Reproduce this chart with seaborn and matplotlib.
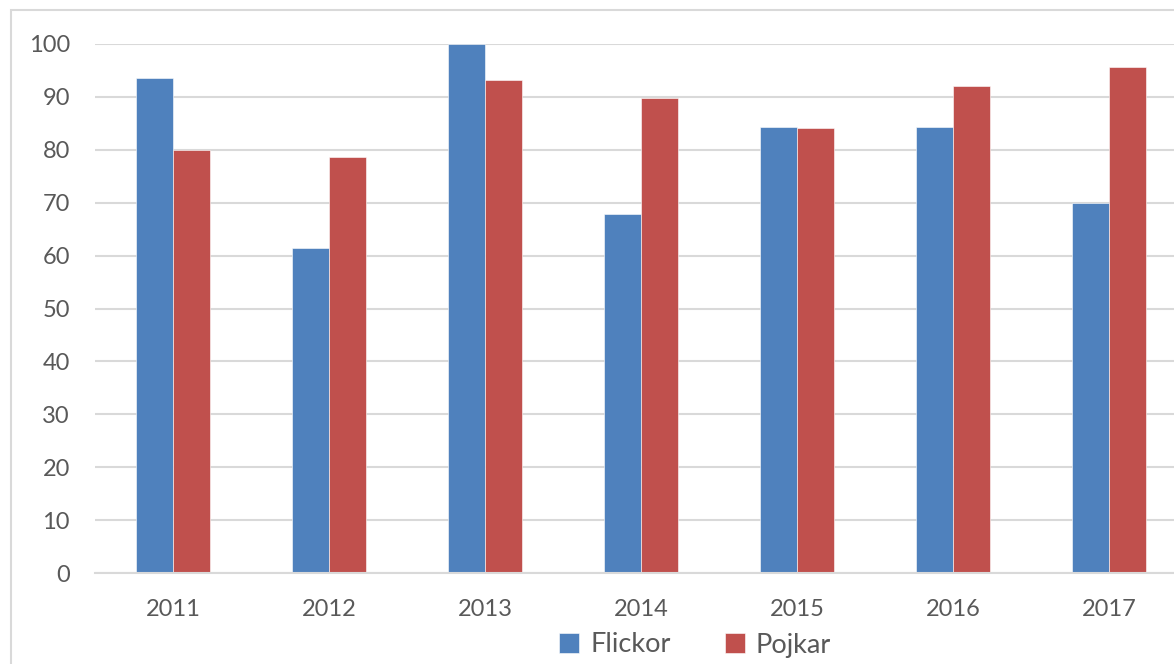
import matplotlib
matplotlib.use("Agg")
import matplotlib.pyplot as plt
import matplotlib.patches as mpatches
import seaborn as sns
import pandas as pd

years = ["2011", "2012", "2013", "2014", "2015", "2016", "2017"]
flickor = [93.6, 61.4, 100.0, 67.9, 84.3, 84.3, 69.9]
pojkar = [80.0, 78.6, 93.2, 89.8, 84.1, 92.1, 95.7]
series = ["Flickor", "Pojkar"]
colors = ["#4F81BD", "#C0504D"]
yticks = [0, 10, 20, 30, 40, 50, 60, 70, 80, 90, 100]

df = pd.DataFrame({
    "År": years * 2,
    "Värde": flickor + pojkar,
    "Kön": [series[0]] * len(years) + [series[1]] * len(years),
})

sns.set_theme(style="white")
plt.rcParams["font.family"] = ["Lato", "DejaVu Sans"]

W, H = 1174, 664
fig = plt.figure(figsize=(W / 100, H / 100), dpi=100)
ax = fig.add_axes([95 / W, (H - 573) / H, 1092 / W, 529 / H])

sns.barplot(data=df, x="År", y="Värde", hue="Kön", palette=colors,
            width=0.474, gap=0, ax=ax, saturation=1, legend=True,
            edgecolor="#ffffff", linewidth=0.4)

ax.set_xlim(-0.5, 6.5)
ax.set_ylim(0, 100)
ax.set_yticks(yticks)
ax.yaxis.grid(True, color="#d9d9d9", linewidth=1.5)
ax.set_axisbelow(True)
for s in ["top", "right", "left"]:
    ax.spines[s].set_visible(False)
ax.spines["bottom"].set_color("#d9d9d9")
ax.spines["bottom"].set_linewidth(1.5)
ax.tick_params(axis="both", length=0, labelsize=17, colors="#595959")
ax.tick_params(axis="y", pad=18)
ax.tick_params(axis="x", pad=19)
ax.set_xlabel("")
ax.set_ylabel("")

handles, labels = ax.get_legend_handles_labels()
ax.get_legend().remove()
leg = fig.legend(handles, labels, loc="center", bbox_to_anchor=(695 / W, 1 - 645 / H),
                 ncol=2, frameon=False, fontsize=19.5, handlelength=0.75,
                 handleheight=0.75, handletextpad=0.4, columnspacing=2.0)
for t in leg.get_texts():
    t.set_color("#595959")

# chart-area border (left and top visible, rest cropped)
fig.patches.append(mpatches.Rectangle((10.5 / W, -0.2), 2.0, 1.2 - 9.5 / H,
                                      transform=fig.transFigure, fill=False,
                                      edgecolor="#d9d9d9", linewidth=1.5))

fig.savefig("out.png", dpi=100)
